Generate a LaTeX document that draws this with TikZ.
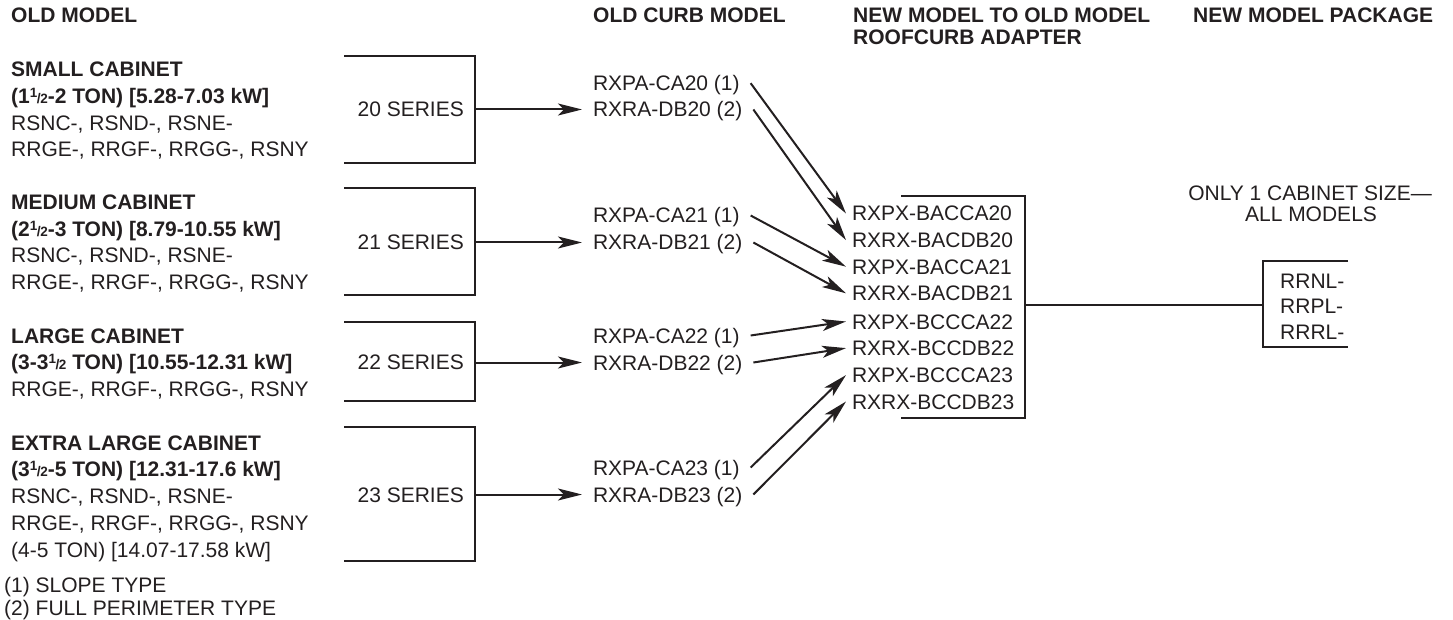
\documentclass[tikz,border=0pt]{standalone}
\usepackage{fontspec}
\setmainfont{Liberation Sans}
\usetikzlibrary{arrows.meta}
\definecolor{ink}{HTML}{231F20}
\newcommand{\fs}{\fontsize{21}{26.7}\selectfont}
\newcommand{\hfr}[2]{\raisebox{6pt}{\fontsize{13.5}{13.5}\selectfont #1}\kern-0.5pt{\fontsize{14}{14}\selectfont /}\kern-0.5pt{\fontsize{13.5}{13.5}\selectfont #2}}
\begin{document}
\begin{tikzpicture}[x=1pt,y=-1pt,
  txt/.style={font=\fs, inner sep=0pt, anchor=base west, text=ink},
  hdr/.style={txt, font=\fs\bfseries},
  curb/.style={txt, outer xsep=11pt, outer ysep=0pt, text height=15pt, text depth=0pt},
  adp/.style={txt, outer xsep=6pt, outer ysep=0pt, text height=15pt, text depth=0pt},
  ser/.style={txt, anchor=base east},
  ctr/.style={txt, anchor=base},
  arr/.style={draw=ink, line width=2pt, -{Stealth[length=24pt,width=12pt,inset=6pt]}},
  brk/.style={draw=ink, line width=2.2pt, line cap=butt, line join=miter},
  wire/.style={draw=ink, line width=2pt}]
\useasboundingbox (0,0) rectangle (1453,620);

% headers
\node[hdr] (h1) at (11,23) {OLD MODEL};
\node[hdr] (h2) at (593,23) {OLD CURB MODEL};
\node[hdr] (h3a) at (853,23) {NEW MODEL TO OLD MODEL};
\node[hdr] (h3b) at (853,45) {ROOFCURB ADAPTER};
\node[hdr] (h4) at (1193,23) {NEW MODEL PACKAGE};

% left blocks
\node[hdr] (s1) at (11,77) {SMALL CABINET};
\node[hdr] (s2) at (11,103.5) {(1\hfr{1}{2}-2 TON) [5.28-7.03 kW]};
\node[txt] (s3) at (11,130.5) {RSNC-, RSND-, RSNE-};
\node[txt] (s4) at (11,157) {RRGE-, RRGF-, RRGG-, RSNY};

\node[hdr] (m1) at (11,210) {MEDIUM CABINET};
\node[hdr] (m2) at (11,236.7) {(2\hfr{1}{2}-3 TON) [8.79-10.55 kW]};
\node[txt] (m3) at (11,263) {RSNC-, RSND-, RSNE-};
\node[txt] (m4) at (11,290) {RRGE-, RRGF-, RRGG-, RSNY};

\node[hdr] (l1) at (11,343) {LARGE CABINET};
\node[hdr] (l2) at (11,369.5) {(3-3\hfr{1}{2} TON) [10.55-12.31 kW]};
\node[txt] (l3) at (11,396) {RRGE-, RRGF-, RRGG-, RSNY};

\node[hdr] (x1) at (11,450) {EXTRA LARGE CABINET};
\node[hdr] (x2) at (11,476.7) {(3\hfr{1}{2}-5 TON) [12.31-17.6 kW]};
\node[txt] (x3) at (11,503) {RSNC-, RSND-, RSNE-};
\node[txt] (x4) at (11,530) {RRGE-, RRGF-, RRGG-, RSNY};
\node[txt] (x5) at (11,557) {(4-5 TON) [14.07-17.58 kW]};

\node[txt] (f1) at (4,592) {(1) SLOPE TYPE};
\node[txt] (f2) at (4,615) {(2) FULL PERIMETER TYPE};

% series brackets
\draw[brk] (344,56) -- (475,56) -- (475,163) -- (344,163);
\draw[brk] (344,188) -- (475,188) -- (475,295) -- (344,295);
\draw[brk] (344,322) -- (475,322) -- (475,401) -- (344,401);
\draw[brk] (344,427) -- (475,427) -- (475,561) -- (344,561);
\node[ser] (r20) at (464,117) {20 SERIES};
\node[ser] (r21) at (464,250) {21 SERIES};
\node[ser] (r22) at (464,369.5) {22 SERIES};
\node[ser] (r23) at (464,502) {23 SERIES};
\coordinate (b20) at (475,109.5);
\coordinate (b21) at (475,242.5);
\coordinate (b22) at (475,362.5);
\coordinate (b23) at (475,494.5);

% old curb models
\node[curb] (ca20) at (582,90.7) {RXPA-CA20 (1)};
\node[curb] (db20) at (582,117) {RXRA-DB20 (2)};
\node[curb] (ca21) at (582,223) {RXPA-CA21 (1)};
\node[curb] (db21) at (582,250) {RXRA-DB21 (2)};
\node[curb] (ca22) at (582,343) {RXPA-CA22 (1)};
\node[curb] (db22) at (582,370) {RXRA-DB22 (2)};
\node[curb] (ca23) at (582,475) {RXPA-CA23 (1)};
\node[curb] (db23) at (582,502) {RXRA-DB23 (2)};

\draw[arr] (b20) -- (b20 -| db20.west);
\draw[arr] (b21) -- (b21 -| db21.west);
\draw[arr] (b22) -- (b22 -| db22.west);
\draw[arr] (b23) -- (b23 -| db23.west);

% adapter
\draw[brk] (901,196) -- (1025,196) -- (1025,418) -- (901,418);
\node[adp] (a1) at (846,221) {RXPX-BACCA20};
\node[adp] (a2) at (846,247.6) {RXRX-BACDB20};
\node[adp] (a3) at (846,274.2) {RXPX-BACCA21};
\node[adp] (a4) at (846,300.8) {RXRX-BACDB21};
\node[adp] (a5) at (846,329) {RXPX-BCCCA22};
\node[adp] (a6) at (846,355.6) {RXRX-BCCDB22};
\node[adp] (a7) at (846,382.6) {RXPX-BCCCA23};
\node[adp] (a8) at (846,409) {RXRX-BCCDB23};

\draw[arr] (ca20.east) -- (a1.west);
\draw[arr] (db20.east) -- (a2.west);
\draw[arr] (ca21.east) -- (a3.west);
\draw[arr] (db21.east) -- (a4.west);
\draw[arr] (ca22.east) -- (a5.west);
\draw[arr] (db22.east) -- (a6.west);
\draw[arr] (ca23.east) -- (a7.west);
\draw[arr] (db23.east) -- (a8.west);

% package
\coordinate (adout) at (1025,305);
\coordinate (pkin) at (1263,305);
\draw[wire] (adout) -- (pkin);
\draw[brk] (1348,261) -- (1263,261) -- (1263,347) -- (1348,347);
\node[txt] (p1) at (1280,288) {RRNL-};
\node[txt] (p2) at (1280,313) {RRPL-};
\node[txt] (p3) at (1280,339) {RRRL-};
\node[ctr] (n1) at (1310,201) {ONLY 1 CABINET SIZE—};
\node[ctr] (n2) at (1311,222) {ALL MODELS};
\end{tikzpicture}
\end{document}
